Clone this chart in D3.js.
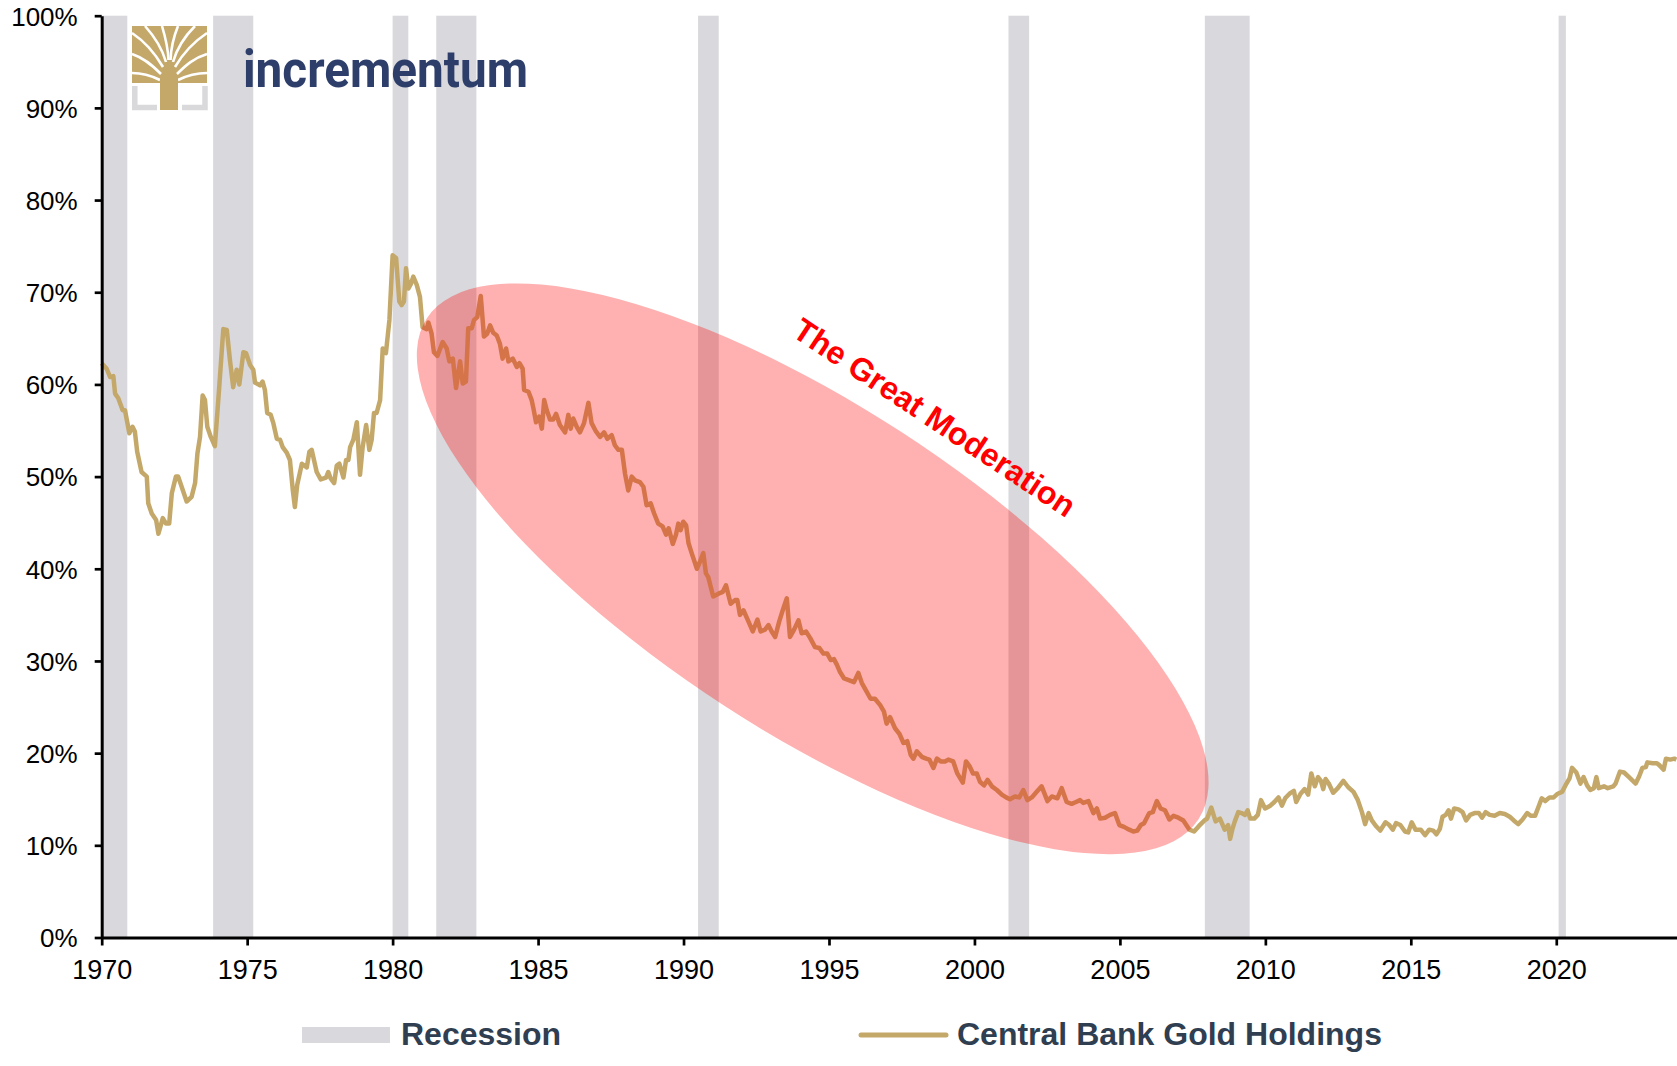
<!DOCTYPE html>
<html>
<head>
<meta charset="utf-8">
<script src="https://cdn.jsdelivr.net/npm/d3@7"></script>
<style>
  body { margin: 0; background: #fff; }
  svg { display: block; font-family: "Liberation Sans", Arial, sans-serif; }
</style>
</head>
<body>
<svg id="chart" width="1677" height="1066"></svg>
<script>
// central bank gold holdings, % (decimal year, value)
const holdings1970s = [
  [1970.00, 62.3], [1970.17, 61.7], [1970.29, 60.8], [1970.40, 60.9], [1970.46, 59.0], [1970.57, 58.5],
  [1970.72, 57.2], [1970.80, 57.2], [1970.95, 54.7], [1971.06, 55.4], [1971.14, 54.9], [1971.22, 52.7],
  [1971.37, 50.5], [1971.55, 50.0], [1971.60, 47.1], [1971.72, 46.0], [1971.87, 45.3], [1971.95, 43.8],
  [1972.10, 45.5], [1972.21, 44.9], [1972.32, 44.9], [1972.41, 48.2], [1972.55, 50.0], [1972.63, 50.0],
  [1972.92, 47.3], [1973.09, 47.8], [1973.21, 49.3], [1973.29, 52.5], [1973.38, 54.3], [1973.47, 58.8],
  [1973.55, 58.3], [1973.63, 55.4], [1973.75, 54.3], [1973.89, 53.3], [1974.04, 59.7], [1974.18, 66.0],
  [1974.30, 65.9], [1974.41, 62.6], [1974.52, 59.7], [1974.64, 61.6], [1974.73, 60.0], [1974.87, 63.5],
  [1974.96, 63.4], [1975.10, 62.1], [1975.21, 61.6], [1975.27, 60.2], [1975.44, 59.9], [1975.53, 60.3],
  [1975.61, 59.4], [1975.69, 56.9], [1975.81, 56.7], [1975.90, 55.8], [1976.02, 54.1], [1976.13, 54.0],
  [1976.22, 53.2], [1976.36, 52.6], [1976.47, 51.8], [1976.57, 48.5], [1976.64, 46.7], [1976.72, 49.1],
  [1976.88, 51.4], [1977.05, 51.0], [1977.14, 52.7], [1977.22, 52.9], [1977.39, 50.5], [1977.53, 49.7],
  [1977.71, 49.9], [1977.79, 50.5], [1977.87, 49.8], [1977.99, 49.3], [1978.08, 51.2], [1978.17, 51.4],
  [1978.31, 49.9], [1978.40, 51.8], [1978.48, 51.8], [1978.54, 53.2], [1978.65, 54.0], [1978.77, 55.9],
  [1978.88, 50.2], [1978.97, 53.2], [1979.09, 55.6], [1979.20, 52.9], [1979.28, 54.0], [1979.36, 56.9],
  [1979.45, 56.9], [1979.57, 58.3], [1979.66, 63.9], [1979.77, 63.4], [1979.89, 67.0]
];
const holdings1980s = [
  [1980.00, 74.0], [1980.12, 73.7], [1980.23, 69.0], [1980.31, 68.6], [1980.39, 69.0], [1980.46, 72.6],
  [1980.54, 70.4], [1980.63, 70.9], [1980.71, 71.7], [1980.83, 70.8], [1980.94, 69.5], [1981.03, 66.2],
  [1981.17, 66.0], [1981.23, 66.7], [1981.34, 65.5], [1981.42, 63.5], [1981.54, 63.1], [1981.72, 64.6],
  [1981.86, 63.9], [1981.95, 62.5], [1982.07, 62.8], [1982.18, 59.6], [1982.32, 62.5], [1982.41, 60.1],
  [1982.52, 60.3], [1982.60, 66.1], [1982.72, 66.1], [1982.80, 67.0], [1982.91, 67.3], [1983.03, 69.6],
  [1983.14, 65.2], [1983.25, 65.5], [1983.35, 66.4], [1983.46, 65.6], [1983.58, 65.3], [1983.69, 64.4],
  [1983.78, 62.8], [1983.90, 63.9], [1983.98, 62.5], [1984.13, 62.8], [1984.27, 61.9], [1984.36, 62.3],
  [1984.47, 61.7], [1984.52, 59.4], [1984.67, 59.2], [1984.78, 58.3], [1984.84, 57.4], [1984.93, 55.9],
  [1985.04, 56.5], [1985.13, 55.2], [1985.21, 58.3], [1985.30, 57.2], [1985.41, 56.2], [1985.52, 56.2],
  [1985.62, 56.8], [1985.75, 55.6], [1985.93, 54.8], [1986.04, 56.7], [1986.12, 55.2], [1986.21, 56.3],
  [1986.33, 55.4], [1986.44, 54.8], [1986.58, 55.8], [1986.73, 58.0], [1986.84, 55.8], [1986.99, 54.9],
  [1987.13, 54.3], [1987.27, 54.8], [1987.38, 54.1], [1987.53, 54.5], [1987.64, 53.4], [1987.76, 52.9],
  [1987.88, 52.9], [1987.99, 50.3], [1988.10, 48.5], [1988.22, 50.0], [1988.33, 49.6], [1988.50, 49.4],
  [1988.62, 48.9], [1988.73, 46.9], [1988.87, 47.1], [1988.99, 46.0], [1989.13, 44.9], [1989.28, 44.6],
  [1989.40, 43.7], [1989.49, 44.4], [1989.63, 42.7], [1989.74, 43.7], [1989.82, 44.9], [1989.90, 44.2],
  [1989.99, 45.1]
];
const holdings1990s = [
  [1990.09, 44.7], [1990.17, 42.8], [1990.28, 41.7], [1990.46, 40.0], [1990.57, 40.8], [1990.68, 41.7],
  [1990.77, 39.5], [1990.85, 39.1], [1991.02, 37.0], [1991.20, 37.3], [1991.35, 37.5], [1991.46, 38.2],
  [1991.62, 36.2], [1991.77, 36.6], [1991.85, 36.6], [1991.94, 35.0], [1992.06, 35.5], [1992.23, 34.3],
  [1992.38, 33.2], [1992.54, 34.5], [1992.65, 33.2], [1992.80, 33.4], [1992.92, 33.9], [1993.03, 33.2],
  [1993.15, 32.6], [1993.29, 34.3], [1993.43, 35.7], [1993.55, 36.8], [1993.66, 32.6], [1993.80, 33.4],
  [1993.95, 34.4], [1994.06, 33.0], [1994.21, 33.2], [1994.35, 32.5], [1994.52, 31.5], [1994.67, 31.4],
  [1994.81, 30.8], [1994.94, 30.8], [1995.06, 30.1], [1995.17, 30.2], [1995.27, 29.6], [1995.38, 28.8],
  [1995.52, 28.1], [1995.70, 27.9], [1995.86, 27.7], [1996.01, 28.7], [1996.13, 27.6], [1996.27, 26.8],
  [1996.43, 25.9], [1996.58, 25.9], [1996.76, 25.2], [1996.89, 24.5], [1996.98, 23.2], [1997.10, 23.9],
  [1997.27, 22.7], [1997.42, 22.1], [1997.56, 21.1], [1997.69, 21.3], [1997.81, 19.8], [1997.90, 19.4],
  [1998.02, 20.2], [1998.19, 19.6], [1998.34, 19.4], [1998.45, 19.3], [1998.59, 18.4], [1998.71, 19.4],
  [1998.84, 19.1], [1998.99, 19.1], [1999.10, 19.3], [1999.27, 19.1], [1999.41, 17.8], [1999.60, 16.8],
  [1999.71, 19.1], [1999.83, 18.6], [1999.95, 17.8]
];
const holdings2000s = [
  [2000.08, 17.8], [2000.19, 16.9], [2000.33, 16.5], [2000.45, 17.1], [2000.60, 16.4], [2000.77, 16.0],
  [2000.94, 15.5], [2001.09, 15.2], [2001.22, 15.0], [2001.39, 15.3], [2001.54, 15.2], [2001.68, 16.0],
  [2001.82, 14.9], [2001.97, 15.2], [2002.14, 15.8], [2002.31, 16.4], [2002.51, 14.8], [2002.66, 15.3],
  [2002.85, 15.1], [2003.00, 16.2], [2003.17, 14.7], [2003.34, 14.5], [2003.49, 14.7], [2003.63, 14.9],
  [2003.74, 14.6], [2003.92, 14.8], [2004.09, 13.5], [2004.21, 14.0], [2004.32, 12.9], [2004.49, 13.0],
  [2004.66, 13.3], [2004.83, 13.5], [2004.98, 12.2], [2005.14, 12.0], [2005.32, 11.7], [2005.46, 11.5],
  [2005.60, 11.6], [2005.72, 12.2], [2005.83, 12.4], [2006.01, 13.5], [2006.13, 13.6], [2006.27, 14.8],
  [2006.40, 14.0], [2006.55, 13.8], [2006.70, 12.8], [2006.84, 13.2], [2007.01, 13.0], [2007.18, 12.7],
  [2007.39, 11.7], [2007.55, 11.5], [2007.72, 12.1], [2007.91, 12.7], [2008.00, 12.9], [2008.14, 14.1],
  [2008.29, 12.6], [2008.44, 12.9], [2008.60, 11.7], [2008.72, 12.2], [2008.79, 10.7], [2008.87, 11.8],
  [2008.95, 12.6], [2009.07, 13.6], [2009.18, 13.5], [2009.30, 13.3], [2009.39, 13.8], [2009.48, 12.9],
  [2009.62, 12.9], [2009.74, 13.3], [2009.85, 14.9], [2009.99, 14.0]
];
const holdings2010s = [
  [2010.17, 14.3], [2010.31, 14.7], [2010.45, 15.2], [2010.57, 14.3], [2010.68, 15.1], [2010.83, 15.6],
  [2010.98, 15.9], [2011.06, 14.7], [2011.21, 15.6], [2011.35, 16.1], [2011.47, 15.5], [2011.58, 17.8],
  [2011.70, 16.4], [2011.81, 17.4], [2011.91, 17.0], [2011.99, 16.1], [2012.07, 17.2], [2012.18, 16.7],
  [2012.33, 15.7], [2012.49, 16.2], [2012.68, 17.0], [2012.85, 16.3], [2013.03, 15.8], [2013.18, 14.9],
  [2013.32, 13.6], [2013.43, 12.3], [2013.55, 13.5], [2013.66, 12.7], [2013.80, 12.1], [2013.95, 11.6],
  [2014.13, 12.5], [2014.26, 12.2], [2014.38, 11.7], [2014.49, 12.4], [2014.64, 12.2], [2014.80, 11.5],
  [2014.91, 11.4], [2015.03, 12.5], [2015.16, 11.7], [2015.34, 11.7], [2015.49, 11.1], [2015.63, 11.7],
  [2015.77, 11.6], [2015.88, 11.2], [2016.00, 11.8], [2016.09, 13.1], [2016.20, 13.3], [2016.30, 13.8],
  [2016.38, 12.9], [2016.49, 14.0], [2016.64, 13.9], [2016.78, 13.6], [2016.90, 12.7], [2017.04, 13.3],
  [2017.19, 13.5], [2017.34, 13.5], [2017.45, 13.0], [2017.57, 13.6], [2017.71, 13.3], [2017.88, 13.2],
  [2018.06, 13.5], [2018.23, 13.4], [2018.40, 13.1], [2018.54, 12.7], [2018.69, 12.3], [2018.84, 12.8],
  [2019.00, 13.5], [2019.12, 13.2], [2019.27, 13.2], [2019.38, 14.1], [2019.50, 15.1], [2019.62, 14.8],
  [2019.77, 15.2], [2019.91, 15.2]
];
const holdings2020s = [
  [2020.05, 15.6], [2020.20, 15.8], [2020.35, 16.7], [2020.46, 17.3], [2020.54, 18.4], [2020.69, 17.9],
  [2020.83, 16.7], [2020.94, 17.4], [2021.06, 16.5], [2021.17, 16.0], [2021.29, 16.2], [2021.38, 17.4],
  [2021.46, 16.2], [2021.64, 16.4], [2021.77, 16.2], [2021.96, 16.4], [2022.04, 16.7], [2022.19, 18.0],
  [2022.33, 17.9], [2022.50, 17.4], [2022.73, 16.7], [2022.85, 17.5], [2022.96, 18.4], [2023.08, 18.5],
  [2023.13, 19.0], [2023.31, 18.9], [2023.46, 18.9], [2023.54, 18.7], [2023.69, 18.2], [2023.77, 19.4],
  [2023.92, 19.3], [2024.06, 19.4], [2024.13, 19.3]
];

// US recessions (decimal years)
const recessionStart = [1969.92, 1973.83, 1980.00, 1981.50, 1990.50, 2001.17, 2007.92, 2020.08];
const recessionEnd   = [1970.88, 1975.21, 1980.54, 1982.88, 1991.21, 2001.88, 2009.46, 2020.33];

const xTicks = [1970, 1975, 1980, 1985, 1990, 1995, 2000, 2005, 2010, 2015, 2020];
const yTicks = [0, 10, 20, 30, 40, 50, 60, 70, 80, 90, 100];

// annotation anchors (year, %)
const moderationCenter = [1994.44, 40.0];
const moderationLabel = [1998.42, 55.4];

const width = 1677;
const height = 1066;
const margin = { top: 15.7, right: 0, bottom: 128.5, left: 101.7 };
const gold = '#c4a86a';
const grey = '#d9d8dc';
const slate = '#2f3e50';

const svg = d3.select('#chart');

const x = d3.scaleLinear().domain([1970, 2024.15]).range([margin.left, width - margin.right]);
const y = d3.scaleLinear().domain([0, 100]).range([height - margin.bottom, margin.top]);

// recession bars
svg.append('g')
  .selectAll('rect')
  .data(d3.zip(recessionStart, recessionEnd))
  .join('rect')
  .attr('x', (d) => x(Math.max(d[0], 1970)))
  .attr('width', (d) => x(d[1]) - x(Math.max(d[0], 1970)))
  .attr('y', y(100))
  .attr('height', y(0) - y(100))
  .attr('fill', grey);

// gold line
const series = [].concat(holdings1970s, holdings1980s, holdings1990s, holdings2000s, holdings2010s, holdings2020s);
const line = d3.line().x((d) => x(d[0])).y((d) => y(d[1]));
svg.append('path')
  .datum(series)
  .attr('d', line)
  .attr('fill', 'none')
  .attr('stroke', gold)
  .attr('stroke-width', 4.5)
  .attr('stroke-linejoin', 'round');

// the great moderation ellipse
svg.append('ellipse')
  .attr('rx', 460)
  .attr('ry', 163)
  .attr('transform', `translate(${x(moderationCenter[0])},${y(moderationCenter[1])}) rotate(33)`)
  .attr('fill', '#ff0000')
  .attr('fill-opacity', 0.31);

svg.append('text')
  .attr('transform', `translate(${x(moderationLabel[0])},${y(moderationLabel[1])}) rotate(33.6)`)
  .attr('text-anchor', 'middle')
  .attr('fill', '#ff0000')
  .style('font-weight', 'bold')
  .style('font-size', '32px')
  .text('The Great Moderation');

// axes
const xAxis = svg.append('g')
  .attr('transform', `translate(0,${y(0)})`)
  .call(d3.axisBottom(x).tickValues(xTicks).tickFormat(d3.format('d')).tickSizeInner(8).tickSizeOuter(0).tickPadding(14));

const yAxis = svg.append('g')
  .attr('transform', `translate(${margin.left},0)`)
  .call(d3.axisLeft(y).tickValues(yTicks).tickFormat((d) => d + '%').tickSizeInner(7).tickSizeOuter(0).tickPadding(17));

[xAxis, yAxis].forEach((g) => {
  g.attr('font-family', null).attr('font-size', null);
  g.select('.domain').attr('stroke', '#000').attr('stroke-width', 3);
  g.selectAll('.tick line').attr('stroke', '#000').attr('stroke-width', 2.7);
  g.selectAll('.tick text').attr('fill', '#000');
});
xAxis.selectAll('.tick text').style('font-size', '27px');
yAxis.selectAll('.tick text').style('font-size', '26px').attr('dy', '0.36em');

// logo: gold crown with white gaps between branches, trunk, grey bracket
const logo = svg.append('g');
logo.append('rect').attr('x', 132).attr('y', 26).attr('width', 75).attr('height', 57).attr('fill', gold);
const gaps = [
  'M160,80 C150,75 142,73 132,73', 'M161,74 C152,65 144,58 132,54', 'M163,67 C156,55 147,43 132,33',
  'M166,62 C162,48 154,36 145,26', 'M168.5,60 C168,46 165,36 162,26', 'M170.5,60 C171,46 174,36 178,26',
  'M173,62 C177,48 185,36 195,26', 'M175,67 C182,55 192,43 207,33', 'M177,74 C186,65 194,58 207,54',
  'M178,80 C188,75 196,73 207,73'
];
logo.selectAll('path.gap')
  .data(gaps)
  .join('path')
  .attr('class', 'gap')
  .attr('d', (d) => d)
  .attr('fill', 'none')
  .attr('stroke', '#fff')
  .attr('stroke-width', 2.6);
logo.append('rect').attr('x', 160).attr('y', 76).attr('width', 18).attr('height', 34).attr('fill', gold);
logo.append('path')
  .attr('d', 'M134.8,86 V107.5 H157 M205,86 V107.5 H182')
  .attr('fill', 'none')
  .attr('stroke', '#d9d9dc')
  .attr('stroke-width', 5.5);
logo.append('text')
  .attr('x', 243)
  .attr('y', 87)
  .attr('textLength', 285)
  .attr('lengthAdjust', 'spacingAndGlyphs')
  .attr('fill', '#2d3e6a')
  .style('font-family', 'Roboto, "Liberation Sans", sans-serif')
  .style('font-weight', 'bold')
  .style('font-size', '52px')
  .text('incrementum');

// legend
const legend = svg.append('g').style('font-weight', 'bold').style('font-size', '32px').attr('fill', slate);
legend.append('rect').attr('x', 302).attr('y', 1027).attr('width', 88).attr('height', 16).attr('fill', grey);
legend.append('text').attr('x', 401).attr('y', 1045).text('Recession');
legend.append('line')
  .attr('x1', 861).attr('x2', 946).attr('y1', 1035).attr('y2', 1035)
  .attr('stroke', gold).attr('stroke-width', 5).attr('stroke-linecap', 'round');
legend.append('text').attr('x', 957).attr('y', 1045).text('Central Bank Gold Holdings');
</script>
</body>
</html>
